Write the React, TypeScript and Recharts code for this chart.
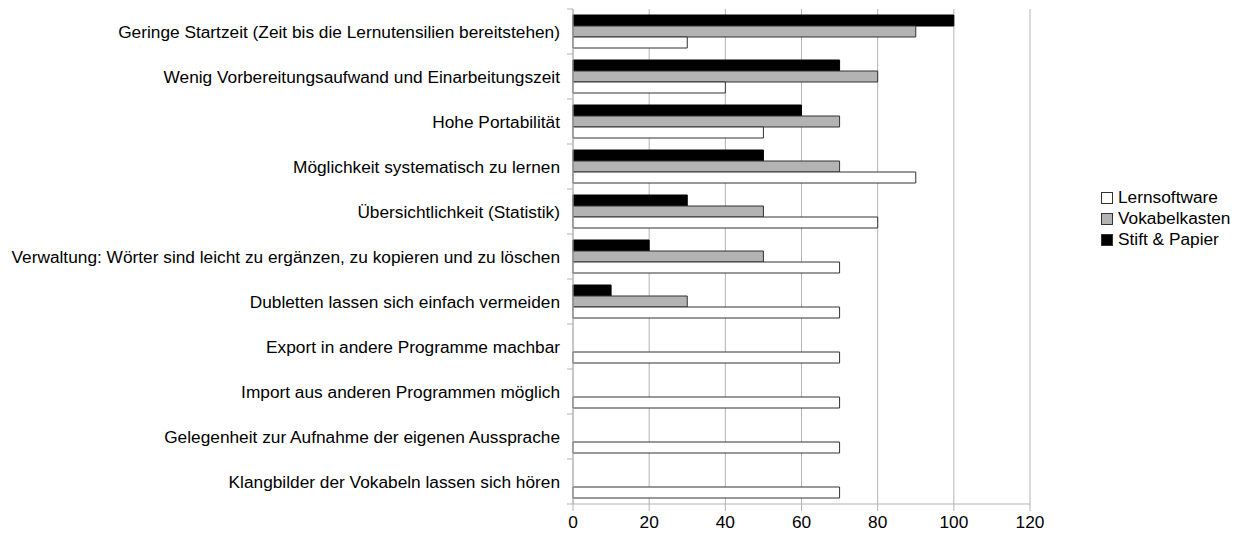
import { BarChart, Bar, XAxis, YAxis, CartesianGrid } from 'recharts';

const categories = [
  'Geringe Startzeit (Zeit bis die Lernutensilien bereitstehen)',
  'Wenig Vorbereitungsaufwand und Einarbeitungszeit',
  'Hohe Portabilität',
  'Möglichkeit systematisch zu lernen',
  'Übersichtlichkeit (Statistik)',
  'Verwaltung: Wörter sind leicht zu ergänzen, zu kopieren und zu löschen',
  'Dubletten lassen sich einfach vermeiden',
  'Export in andere Programme machbar',
  'Import aus anderen Programmen möglich',
  'Gelegenheit zur Aufnahme der eigenen Aussprache',
  'Klangbilder der Vokabeln lassen sich hören',
];

const stiftPapier = [100, 70, 60, 50, 30, 20, 10, 0, 0, 0, 0];
const vokabelkasten = [90, 80, 70, 70, 50, 50, 30, 0, 0, 0, 0];
const lernsoftware = [30, 40, 50, 90, 80, 70, 70, 70, 70, 70, 70];

const xTicks = [0, 20, 40, 60, 80, 100, 120];

const data = categories.map((name, i) => ({
  name,
  stift: stiftPapier[i],
  vokabel: vokabelkasten[i],
  lern: lernsoftware[i],
}));

const legendItems = [
  { label: 'Lernsoftware', fill: '#ffffff' },
  { label: 'Vokabelkasten', fill: '#b3b3b3' },
  { label: 'Stift & Papier', fill: '#000000' },
];

const FONT = '"Liberation Sans", Arial, sans-serif';
const FS = 17.3;

const CategoryTick = (props: any) => {
  const { x, y, payload, index } = props;
  const band = 45;
  const axisX = x + 8;
  return (
    <g>
      <line x1={axisX - 6} x2={axisX} y1={y - band / 2} y2={y - band / 2} stroke="#b3b3b3" />
      {index === categories.length - 1 && (
        <line x1={axisX - 6} x2={axisX} y1={y + band / 2} y2={y + band / 2} stroke="#b3b3b3" />
      )}
      <text x={axisX - 13} y={y} dy={6.5} textAnchor="end" fontSize={FS} fill="#000" fontFamily={FONT}>
        {payload.value}
      </text>
    </g>
  );
};

const ValueTick = (props: any) => {
  const { x, y, payload } = props;
  return (
    <text x={x} y={y} dy={15} textAnchor="middle" fontSize={FS} fill="#000" fontFamily={FONT}>
      {payload.value}
    </text>
  );
};

const LegendBox = () => (
  <div style={{ position: 'absolute', left: 1101, top: 187, fontFamily: FONT, fontSize: FS, color: '#000' }}>
    {legendItems.map((it) => (
      <div key={it.label} style={{ display: 'flex', alignItems: 'center', height: 21 }}>
        <span
          style={{
            display: 'inline-block',
            width: 10,
            height: 10,
            background: it.fill,
            border: '1px solid #333',
            marginRight: 5,
          }}
        />
        {it.label}
      </div>
    ))}
  </div>
);

export default function App() {
  return (
    <div style={{ position: 'absolute', left: 0, top: 0, width: 1242, height: 536, background: '#fff' }}>
      <BarChart
        width={1242}
        height={536}
        data={data}
        layout="vertical"
        margin={{ top: 9, right: 212, bottom: 0, left: 0 }}
        barSize={11}
        barGap={0}
      >
        <CartesianGrid horizontal={false} stroke="#b3b3b3" />
        <XAxis
          type="number"
          domain={[0, 120]}
          ticks={xTicks}
          interval={0}
          height={32}
          stroke="#b3b3b3"
          tickSize={7}
          tick={<ValueTick />}
        />
        <YAxis
          type="category"
          dataKey="name"
          width={573}
          interval={0}
          stroke="#b3b3b3"
          tickLine={false}
          tick={<CategoryTick />}
        />
        <Bar dataKey="stift" name="Stift & Papier" fill="#000000" stroke="#000" isAnimationActive={false} />
        <Bar dataKey="vokabel" name="Vokabelkasten" fill="#b3b3b3" stroke="#333" isAnimationActive={false} />
        <Bar dataKey="lern" name="Lernsoftware" fill="#ffffff" stroke="#333" isAnimationActive={false} />
      </BarChart>
      <LegendBox />
    </div>
  );
}
